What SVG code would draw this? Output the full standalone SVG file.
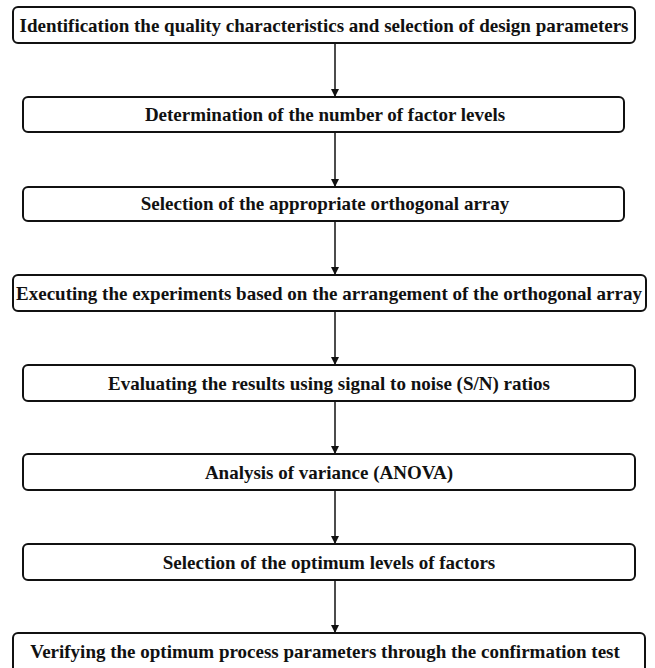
<svg xmlns="http://www.w3.org/2000/svg" width="655" height="668" viewBox="0 0 655 668">
<defs>
<style>
.box{fill:#fff;stroke:#111;stroke-width:2}
.t{font-family:"Liberation Serif","Times New Roman",serif;font-weight:bold;font-size:19px;fill:#111;text-anchor:middle}
.c{stroke:#111;stroke-width:1.5;fill:none;marker-end:url(#ah)}
</style>
<marker id="ah" viewBox="0 0 10 10" refX="10" refY="5" markerWidth="8" markerHeight="8" markerUnits="userSpaceOnUse" orient="auto">
<path d="M0,0 L10,5 L0,10 z" fill="#111"/>
</marker>
</defs>
<rect width="655" height="668" fill="#fff"/>
<g id="connectors">
<line class="c" x1="335" y1="43" x2="335" y2="97"/>
<line class="c" x1="335" y1="132" x2="335" y2="187"/>
<line class="c" x1="335" y1="221" x2="335" y2="275"/>
<line class="c" x1="335" y1="311" x2="335" y2="365"/>
<line class="c" x1="335" y1="401" x2="335" y2="454"/>
<line class="c" x1="335" y1="490" x2="335" y2="544"/>
<line class="c" x1="335" y1="580" x2="335" y2="633"/>
</g>
<g id="n1"><rect class="box" x="13" y="7" width="622" height="36" rx="5"/><text class="t" x="324" y="31.5">Identification the quality characteristics and selection of design parameters</text></g>
<g id="n2"><rect class="box" x="23" y="97" width="601" height="35" rx="5"/><text class="t" x="325" y="121">Determination of the number of factor levels</text></g>
<g id="n3"><rect class="box" x="23" y="187" width="601" height="34" rx="5"/><text class="t" x="325" y="210">Selection of the appropriate orthogonal array</text></g>
<g id="n4"><rect class="box" x="13" y="275" width="633" height="36" rx="5"/><text class="t" x="329" y="300">Executing the experiments based on the arrangement of the orthogonal array</text></g>
<g id="n5"><rect class="box" x="23" y="365" width="612" height="36" rx="5"/><text class="t" x="329" y="389.5">Evaluating the results using signal to noise (S/N) ratios</text></g>
<g id="n6"><rect class="box" x="23" y="454" width="612" height="36" rx="5"/><text class="t" x="329" y="478.5">Analysis of variance (ANOVA)</text></g>
<g id="n7"><rect class="box" x="23" y="544" width="612" height="36" rx="5"/><text class="t" x="329" y="568.5">Selection of the optimum levels of factors</text></g>
<g id="n8"><rect class="box" x="13" y="633" width="632" height="40" rx="5"/><text class="t" x="325" y="657.5">Verifying the optimum process parameters through the confirmation test</text></g>
</svg>
